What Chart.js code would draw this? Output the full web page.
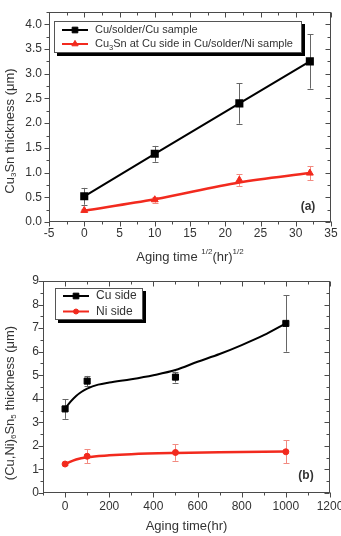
<!DOCTYPE html>
<html><head><meta charset="utf-8">
<script src="https://cdn.jsdelivr.net/npm/chart.js@4.4.1/dist/chart.umd.min.js"></script>
<style>
html,body{margin:0;padding:0;background:#fff;width:341px;height:536px;overflow:hidden}
.w{position:absolute;left:0;width:341px;height:268px}
</style></head>
<body>
<div class="w" style="top:0"><canvas id="ca"></canvas></div>
<div class="w" style="top:268px"><canvas id="cb"></canvas></div>
<script>
// ---------- data: panel (a) ----------
const aX = [0, 10, 22, 32];
const aCuCu = [0.52, 1.38, 2.40, 3.25];
const aCuCuErr = [0.17, 0.16, 0.41, 0.55];
const aCuNi = [0.235, 0.45, 0.85, 0.99];
const aCuNiErr = [0.03, 0.06, 0.12, 0.14];
const aFitX = [0, 10, 22, 32];
const aFitY = [0.23, 0.46, 0.80, 0.99];
const aXTicks = [-5, 0, 5, 10, 15, 20, 25, 30, 35];
const aYTicks = [0, 0.5, 1, 1.5, 2, 2.5, 3, 3.5, 4];

// ---------- data: panel (b) ----------
const bX = [0, 100, 500, 1000];
const bCu = [3.57, 4.75, 4.92, 7.20];
const bCuErr = [0.42, 0.22, 0.23, 1.20];
const bNi = [1.23, 1.56, 1.72, 1.75];
const bNiErr = [0.05, 0.30, 0.35, 0.49];
const bCuFitX = [0, 10, 25, 50, 75, 100, 150, 200, 300, 400, 500, 600, 700, 800, 900, 1000];
const bCuFitY = [3.57, 3.70, 3.88, 4.12, 4.30, 4.43, 4.60, 4.69, 4.83, 5.00, 5.22, 5.57, 5.90, 6.28, 6.70, 7.20];
const bNiFitX = [0, 50, 100, 200, 300, 500, 700, 1000];
const bNiFitY = [1.23, 1.42, 1.52, 1.60, 1.65, 1.70, 1.73, 1.76];
const bXTicks = [0, 200, 400, 600, 800, 1000, 1200];
const bYTicks = [0, 1, 2, 3, 4, 5, 6, 7, 8, 9];

const FONT = '"Liberation Sans", Arial, Helvetica, sans-serif';
const TXT = '#333';
const RED = '#f22a1e';

function pts(xs, ys) { return xs.map((x, i) => ({x: x, y: ys[i]})); }

function drawRich(ctx, segs, x, y, rot, base, align) {
  ctx.save();
  ctx.translate(x, y);
  ctx.rotate(rot || 0);
  let w = 0;
  segs.forEach(s => {
    ctx.font = (s.b ? 'bold ' : '') + (s.sz || base) + 'px ' + FONT;
    s.w = ctx.measureText(s.t).width; w += s.w;
  });
  let cx = align === 'left' ? 0 : -w / 2;
  ctx.textBaseline = 'middle'; ctx.textAlign = 'left'; ctx.fillStyle = TXT;
  segs.forEach(s => {
    ctx.font = (s.b ? 'bold ' : '') + (s.sz || base) + 'px ' + FONT;
    ctx.fillText(s.t, cx, s.dy || 0);
    cx += s.w;
  });
  ctx.restore();
}

function drawMarker(ctx, style, x, y, r, color) {
  ctx.save();
  ctx.fillStyle = color; ctx.strokeStyle = color; ctx.lineWidth = 1;
  ctx.beginPath();
  if (style === 'rect') {
    const s = r * Math.SQRT1_2; ctx.rect(x - s, y - s, 2 * s, 2 * s);
  } else if (style === 'triangle') {
    ctx.moveTo(x, y - r); ctx.lineTo(x + r * 0.866, y + r * 0.5); ctx.lineTo(x - r * 0.866, y + r * 0.5); ctx.closePath();
  } else {
    ctx.arc(x, y, r, 0, Math.PI * 2);
  }
  ctx.fill(); ctx.stroke();
  ctx.restore();
}

const deco = {
  id: 'deco',
  beforeDatasetsDraw(chart) {
    const ctx = chart.ctx, xs = chart.scales.x, ys = chart.scales.y;
    chart.data.datasets.forEach(ds => {
      if (!ds.err) return;
      ctx.save();
      ctx.strokeStyle = ds.errColor; ctx.lineWidth = 1;
      ds.data.forEach((p, i) => {
        const px = Math.round(xs.getPixelForValue(p.x)) + 0.5;
        const y1 = ys.getPixelForValue(p.y - ds.err[i]);
        const y2 = ys.getPixelForValue(p.y + ds.err[i]);
        ctx.beginPath();
        ctx.moveTo(px, y1); ctx.lineTo(px, y2);
        ctx.moveTo(px - 3, Math.round(y1) + 0.5); ctx.lineTo(px + 3, Math.round(y1) + 0.5);
        ctx.moveTo(px - 3, Math.round(y2) + 0.5); ctx.lineTo(px + 3, Math.round(y2) + 0.5);
        ctx.stroke();
      });
      ctx.restore();
    });
  },
  afterDraw(chart, args, o) {
    const ctx = chart.ctx, xs = chart.scales.x, ys = chart.scales.y, a = chart.chartArea;
    const L = Math.round(a.left) + 0.5, R = Math.round(a.right) - 0.5, T = Math.round(a.top) + 0.5, B = Math.round(a.bottom) - 0.5;
    ctx.save();
    ctx.strokeStyle = '#4a4a4a'; ctx.lineWidth = 1;
    ctx.strokeRect(L, T, R - L, B - T);
    ctx.beginPath();
    for (let v = xs.min; v <= xs.max + 1e-9; v += o.xMinor) {
      const major = Math.abs(Math.round((v - o.xMajor0) / o.xMajor) * o.xMajor + o.xMajor0 - v) < 1e-6;
      const len = major ? 5 : 3;
      const px = Math.round(xs.getPixelForValue(v)) + 0.5;
      ctx.moveTo(px, B); ctx.lineTo(px, B + len);
      ctx.moveTo(px, T); ctx.lineTo(px, T + len);
    }
    for (let v = ys.min; v <= ys.max + 1e-9; v += o.yMinor) {
      const major = Math.abs(Math.round(v / o.yMajor) * o.yMajor - v) < 1e-6;
      const len = major ? 5 : 3;
      const py = Math.round(ys.getPixelForValue(v)) + 0.5;
      ctx.moveTo(L, py); ctx.lineTo(L - len, py);
      ctx.moveTo(R, py); ctx.lineTo(R - len, py);
    }
    ctx.stroke();
    ctx.restore();

    drawRich(ctx, o.xTitle, (a.left + a.right) / 2, o.xTitleY, 0, 13);
    drawRich(ctx, o.yTitle, o.yTitleX, o.yTitleY, -Math.PI / 2, 13);
    drawRich(ctx, [{t: o.panel, b: true}], o.panelX, o.panelY, 0, 12);

    const lg = o.legend;
    ctx.save();
    ctx.fillStyle = '#000';
    ctx.fillRect(lg.x + 3, lg.y + 3, lg.w, lg.h);
    ctx.fillStyle = '#fff';
    ctx.fillRect(lg.x, lg.y, lg.w, lg.h);
    ctx.strokeStyle = '#555'; ctx.lineWidth = 1;
    ctx.strokeRect(lg.x + 0.5, lg.y + 0.5, lg.w - 1, lg.h - 1);
    ctx.restore();
    lg.items.forEach((it, i) => {
      const y = lg.y + lg.row0 + i * lg.rowH;
      ctx.save();
      ctx.strokeStyle = it.color; ctx.lineWidth = 2;
      ctx.beginPath(); ctx.moveTo(lg.x + 8, y); ctx.lineTo(lg.x + 34, y); ctx.stroke();
      ctx.restore();
      drawMarker(ctx, it.style, lg.x + 21, y, it.r, it.color);
      drawRich(ctx, it.text, lg.x + 41, y, 0, lg.font, 'left');
    });
  }
};

function makeChart(id, c) {
  return new Chart(document.getElementById(id), {
    type: 'scatter',
    data: {datasets: c.datasets},
    options: {
      responsive: true, maintainAspectRatio: false, animation: false,
      layout: {padding: {left: 0, top: c.top, right: c.right, bottom: 0}},
      plugins: {legend: {display: false}, tooltip: {enabled: false}, deco: c.deco},
      scales: {
        x: {
          type: 'linear', min: c.xMin, max: c.xMax,
          grid: {display: false, drawTicks: false}, border: {display: false},
          ticks: {stepSize: c.xStep, includeBounds: false, padding: c.xPad, color: TXT, font: {size: 12, family: FONT}, maxRotation: 0, autoSkip: false,
                  callback: v => String(v)},
          afterBuildTicks: s => { s.ticks = c.xTicks.map(v => ({value: v})); },
          afterFit: s => { s.height = c.xH; s.paddingLeft = 0; s.paddingRight = 0; }
        },
        y: {
          type: 'linear', min: c.yMin, max: c.yMax,
          grid: {display: false, drawTicks: false}, border: {display: false},
          ticks: {stepSize: c.yStep, includeBounds: false, padding: c.yPad, color: TXT, font: {size: 12, family: FONT}, autoSkip: false,
                  callback: c.yFmt},
          afterBuildTicks: s => { s.ticks = c.yTicks.map(v => ({value: v})); },
          afterFit: s => { s.width = c.yW; s.paddingTop = 0; s.paddingBottom = 0; }
        }
      }
    },
    plugins: [deco]
  });
}

makeChart('ca', {
  top: 12, right: 10, xH: 46, yW: 49, xPad: 4, yPad: 7,
  xMin: -5, xMax: 35, xStep: 5, yMin: 0, yMax: 4.25, yStep: 0.5,
  xTicks: aXTicks, yTicks: aYTicks,
  yFmt: v => Number(v).toFixed(1),
  datasets: [
    {label: 'fit', data: pts(aFitX, aFitY), showLine: true, borderColor: RED, borderWidth: 2.5, pointRadius: 0, cubicInterpolationMode: 'monotone'},
    {label: 'Cu3Sn at Cu side in Cu/solder/Ni sample', data: pts(aX, aCuNi), err: aCuNiErr, errColor: '#f28a80', showLine: false, pointStyle: 'triangle', pointRadius: 4, backgroundColor: RED, borderColor: RED},
    {label: 'Cu/solder/Cu sample', data: pts(aX, aCuCu), err: aCuCuErr, errColor: '#666', showLine: true, borderColor: '#000', borderWidth: 2, tension: 0, pointStyle: 'rect', pointRadius: 4.3, backgroundColor: '#000'}
  ],
  deco: {
    xMinor: 2.5, xMajor: 5, xMajor0: 0, yMinor: 0.25, yMajor: 0.5,
    xTitle: [{t: 'Aging time '}, {t: '1/2', sz: 8, dy: -5}, {t: '(hr)'}, {t: '1/2', sz: 8, dy: -5}],
    xTitleY: 257,
    yTitle: [{t: 'Cu'}, {t: '3', sz: 8, dy: 4}, {t: 'Sn thickness (\u03bcm)'}],
    yTitleX: 10, yTitleY: 131,
    panel: '(a)', panelX: 308, panelY: 207,
    legend: {x: 54, y: 21, w: 248, h: 32, row0: 9, rowH: 14, font: 11, items: [
      {color: '#000', style: 'rect', r: 4, text: [{t: 'Cu/solder/Cu sample'}]},
      {color: RED, style: 'triangle', r: 3.6, text: [{t: 'Cu'}, {t: '3', sz: 7.5, dy: 4}, {t: 'Sn at Cu side in Cu/solder/Ni sample'}]}
    ]}
  }
});

makeChart('cb', {
  top: 13, right: 11, xH: 43, yW: 43, xPad: 6, yPad: 4,
  xMin: -100, xMax: 1200, xStep: 200, yMin: 0, yMax: 9, yStep: 1,
  xTicks: bXTicks, yTicks: bYTicks,
  yFmt: v => String(v),
  datasets: [
    {label: 'fitCu', data: pts(bCuFitX, bCuFitY), showLine: true, borderColor: '#000', borderWidth: 2, pointRadius: 0, cubicInterpolationMode: 'monotone'},
    {label: 'fitNi', data: pts(bNiFitX, bNiFitY), showLine: true, borderColor: RED, borderWidth: 2.5, pointRadius: 0, cubicInterpolationMode: 'monotone'},
    {label: 'Cu side', data: pts(bX, bCu), err: bCuErr, errColor: '#666', showLine: false, pointStyle: 'rect', pointRadius: 4.3, backgroundColor: '#000', borderColor: '#000'},
    {label: 'Ni side', data: pts(bX, bNi), err: bNiErr, errColor: '#f28a80', showLine: false, pointStyle: 'circle', pointRadius: 3, backgroundColor: RED, borderColor: RED}
  ],
  deco: {
    xMinor: 100, xMajor: 200, xMajor0: 0, yMinor: 0.5, yMajor: 1,
    xTitle: [{t: 'Aging time(hr)'}],
    xTitleY: 258,
    yTitle: [{t: '(Cu,Ni)'}, {t: '6', sz: 8, dy: 4}, {t: 'Sn'}, {t: '5', sz: 8, dy: 4}, {t: ' thickness (\u03bcm)'}],
    yTitleX: 10, yTitleY: 135,
    panel: '(b)', panelX: 306, panelY: 208,
    legend: {x: 55, y: 20, w: 88, h: 32, row0: 8, rowH: 15.5, font: 12, items: [
      {color: '#000', style: 'rect', r: 4, text: [{t: 'Cu side'}]},
      {color: RED, style: 'circle', r: 2.5, text: [{t: 'Ni side'}]}
    ]}
  }
});
</script>
</body></html>
